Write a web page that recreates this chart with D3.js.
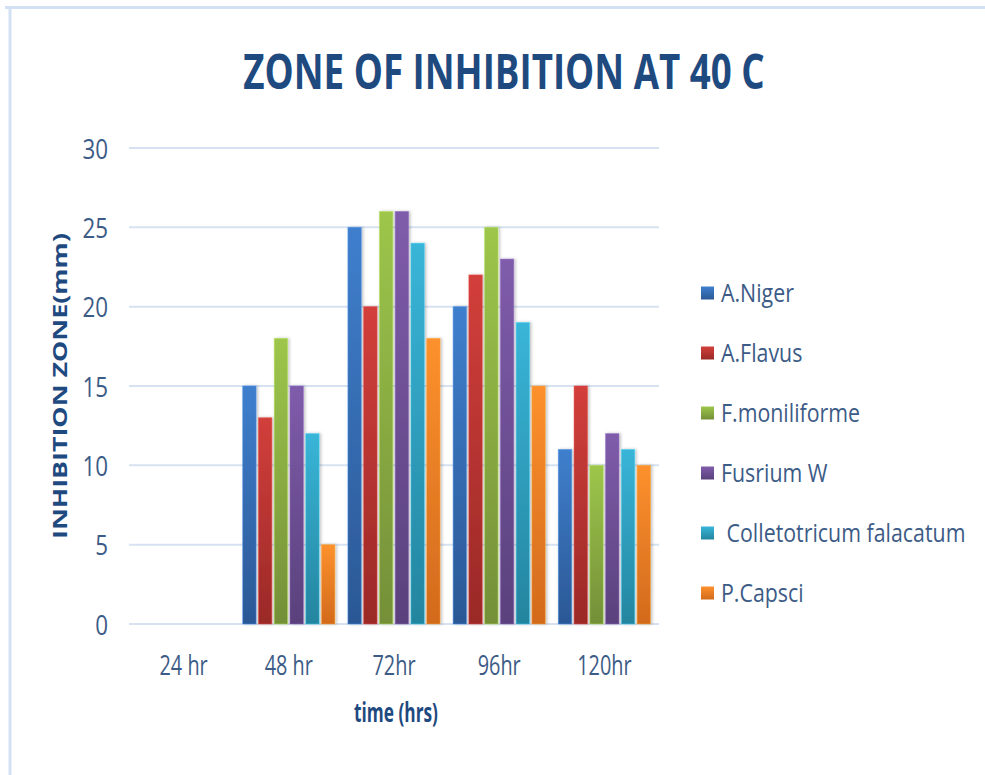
<!DOCTYPE html>
<html>
<head>
<meta charset="utf-8">
<script src="https://cdn.jsdelivr.net/npm/d3@7"></script>
<style>
  html, body { margin: 0; padding: 0; background: #fff; }
  svg text { font-family: "Open Sans", sans-serif; white-space: pre; }
</style>
</head>
<body>
<svg id="chart" width="985" height="775"></svg>
<script>
// Time points (x categories)
const categories = ["24 hr", "48 hr", "72hr", "96hr", "120hr"];
// Organisms (series)
const seriesNames = ["A.Niger", "A.Flavus", "F.moniliforme", "Fusrium W", " Colletotricum falacatum", "P.Capsci"];
// Zone of inhibition (mm) per organism, one value per time point
const aNiger        = [0, 15, 25, 20, 11];
const aFlavus       = [0, 13, 20, 22, 15];
const fMoniliforme  = [0, 18, 26, 25, 10];
const fusriumW      = [0, 15, 26, 23, 12];
const colletotricum = [0, 12, 24, 19, 11];
const pCapsci       = [0, 5, 18, 15, 10];
const seriesValues = [aNiger, aFlavus, fMoniliforme, fusriumW, colletotricum, pCapsci];
// Y axis ticks
const yTicks = [0, 5, 10, 15, 20, 25, 30];

// Gradient stops per series: [top, bottom]
const palette = [
  ["#3f7fcd", "#2b5895"],
  ["#d23f3b", "#9a2927"],
  ["#9dc64b", "#748f38"],
  ["#7f5cab", "#5a417c"],
  ["#39b5d8", "#24859f"],
  ["#fd912d", "#d26a1d"]
];

// Squeeze text horizontally by a factor around its x anchor
function condense(sel, factor) {
  sel.each(function () {
    const t = d3.select(this);
    const x = +t.attr("x") || 0;
    const prev = t.attr("transform") || "";
    t.attr("transform", `${prev} translate(${x},0) scale(${factor},1) translate(${-x},0)`);
  });
}

const svg = d3.select("#chart");

// Outer frame (top and left edges)
svg.append("line").attr("x1", 5).attr("x2", 985).attr("y1", 7.5).attr("y2", 7.5)
  .attr("stroke", "#d3e1f4").attr("stroke-width", 3);
svg.append("line").attr("x1", 10).attr("x2", 10).attr("y1", 6).attr("y2", 775)
  .attr("stroke", "#d3e1f4").attr("stroke-width", 3);

const defs = svg.append("defs");
palette.forEach((c, i) => {
  const g = defs.append("linearGradient").attr("id", "grad" + i)
    .attr("x1", 0).attr("y1", 0).attr("x2", 0).attr("y2", 1);
  g.append("stop").attr("offset", "0%").attr("stop-color", c[0]);
  g.append("stop").attr("offset", "100%").attr("stop-color", c[1]);
});
const shadow = defs.append("filter").attr("id", "shadow")
  .attr("x", "-30%").attr("y", "-10%").attr("width", "160%").attr("height", "120%");
shadow.append("feDropShadow").attr("dx", 1.5).attr("dy", 0).attr("stdDeviation", 1.5)
  .attr("flood-color", "#000").attr("flood-opacity", 0.25);

const plot = { left: 131, right: 657, top: 148, bottom: 624 };

const x0 = d3.scaleBand().domain(categories).range([plot.left, plot.right]).padding(0);
const x1 = d3.scaleBand().domain(d3.range(seriesNames.length))
  .range([6.5, x0.bandwidth() - 6.5]).paddingInner(0.15).paddingOuter(0);
const y = d3.scaleLinear().domain([0, 30]).range([plot.bottom, plot.top]);

// Gridlines
svg.append("g").selectAll("line").data(yTicks).join("line")
  .attr("x1", plot.left - 2).attr("x2", plot.right + 2)
  .attr("y1", d => y(d)).attr("y2", d => y(d))
  .attr("stroke", "#d6e2f1").attr("stroke-width", 2);

// Y axis labels
const yAxis = d3.axisLeft(y).tickValues(yTicks).tickSize(0).tickPadding(0);
const yg = svg.append("g").attr("transform", `translate(${plot.left - 23},0)`).call(yAxis);
yg.select(".domain").remove();
yg.selectAll("text").attr("fill", "#3c5b86").attr("font-size", 28)
  .attr("font-family", "'Open Sans', sans-serif").attr("dy", "0.36em")
  .call(condense, 0.8);

// X axis labels
const xAxis = d3.axisBottom(x0).tickSize(0).tickPadding(0);
const xg = svg.append("g").attr("transform", `translate(0,${plot.bottom + 31})`).call(xAxis);
xg.select(".domain").remove();
xg.selectAll("text").attr("fill", "#3c5b86").attr("font-size", 28)
  .attr("font-family", "'Open Sans', sans-serif").attr("dy", "0.71em")
  .call(condense, 0.71);

// Bars
const groups = svg.append("g").selectAll("g").data(categories).join("g")
  .attr("transform", d => `translate(${x0(d)},0)`);
groups.selectAll("rect")
  .data((d, ci) => seriesValues.map((vals, si) => ({ si, v: vals[ci] })).filter(e => e.v > 0))
  .join("rect")
  .attr("x", d => x1(d.si))
  .attr("width", x1.bandwidth())
  .attr("y", d => y(d.v))
  .attr("height", d => y(0) - y(d.v))
  .attr("fill", d => `url(#grad${d.si})`)
  .attr("stroke", d => d3.color(palette[d.si][0]).brighter(0.4))
  .attr("stroke-opacity", 0.6)
  .attr("stroke-width", 0.8)
  .attr("filter", "url(#shadow)");

// Title
svg.append("text").attr("x", 504).attr("y", 89).attr("text-anchor", "middle")
  .attr("font-weight", "bold").attr("font-size", 48).attr("fill", "#1f4a7f")
  .text("ZONE OF INHIBITION AT 40 C")
  .call(condense, 0.765);

// Axis titles
svg.append("text").attr("transform", "translate(67,386) rotate(-90)")
  .attr("text-anchor", "middle").attr("font-weight", "bold").attr("font-size", 20)
  .attr("fill", "#1f4a7f").text("INHIBITION ZONE(mm)")
  .attr("textLength", 306).attr("lengthAdjust", "spacingAndGlyphs");
svg.append("text").attr("x", 396).attr("y", 722).attr("text-anchor", "middle")
  .attr("font-weight", "bold").attr("font-size", 27)
  .attr("fill", "#1f4a7f").text("time (hrs)")
  .call(condense, 0.64);

// Legend
const legend = svg.append("g").selectAll("g").data(seriesNames).join("g")
  .attr("transform", (d, i) => `translate(701,${293 + i * 60})`);
legend.append("rect").attr("x", 0).attr("y", -6.5).attr("width", 13).attr("height", 13)
  .attr("fill", (d, i) => `url(#grad${i})`);
legend.append("text").attr("x", 20).attr("y", 0).attr("dy", "0.36em")
  .attr("font-size", 25).attr("fill", "#3c5b86")
  .text(d => d)
  .call(condense, 0.855);
</script>
</body>
</html>
